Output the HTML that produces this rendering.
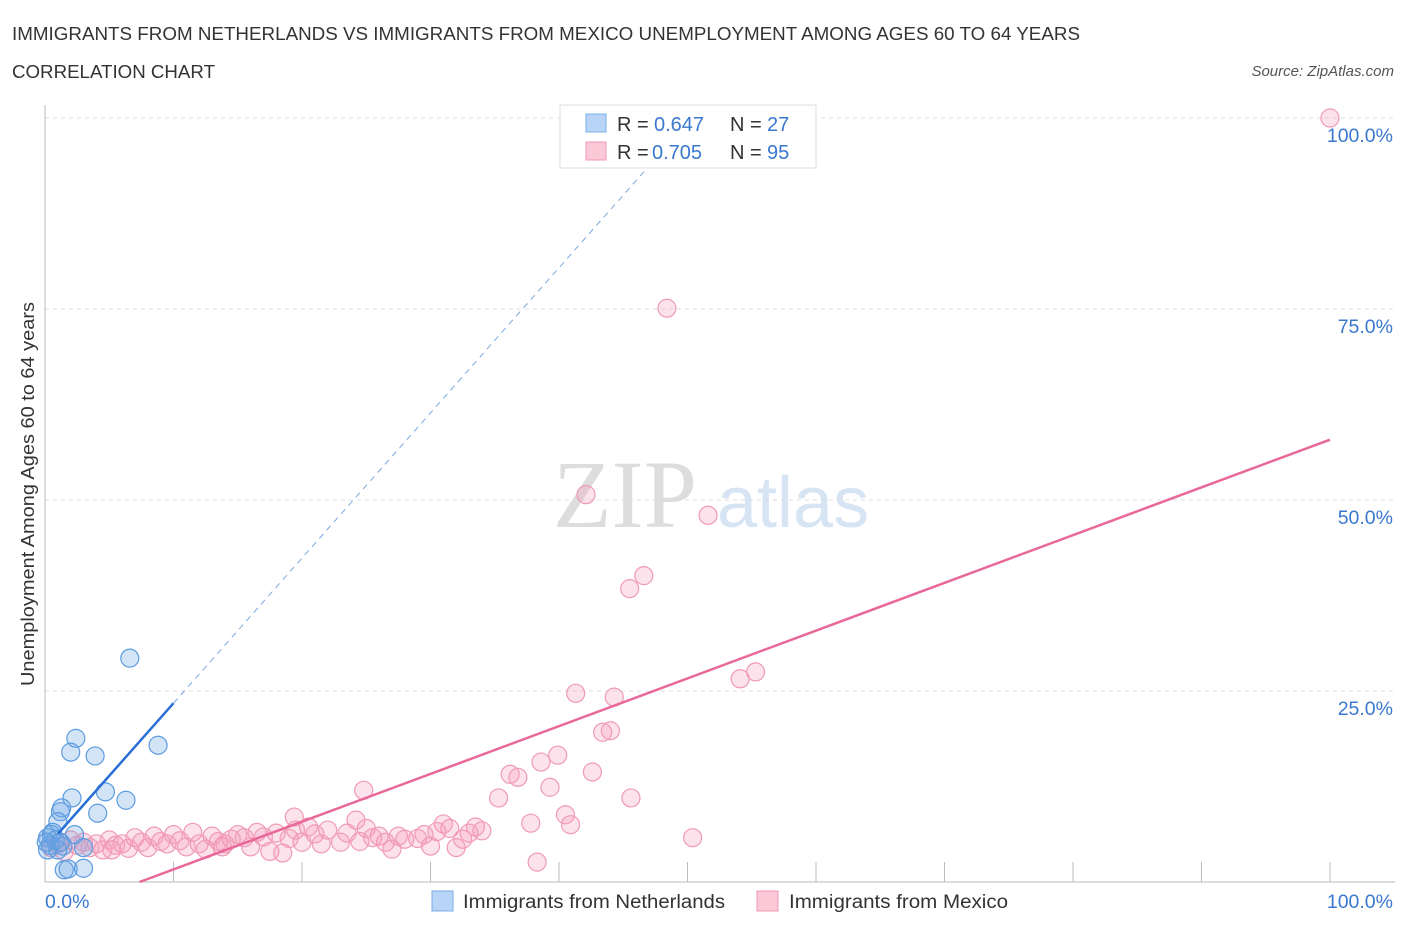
<!DOCTYPE html>
<html><head><meta charset="utf-8"><style>
body{margin:0;background:#fff;font-family:"Liberation Sans",sans-serif}
svg text{font-family:"Liberation Sans",sans-serif}
</style></head><body>
<svg id="c" width="1406" height="930" xmlns="http://www.w3.org/2000/svg">
<text x="12" y="40" font-size="18" textLength="1068" lengthAdjust="spacingAndGlyphs" fill="#333">IMMIGRANTS FROM NETHERLANDS VS IMMIGRANTS FROM MEXICO UNEMPLOYMENT AMONG AGES 60 TO 64 YEARS</text>
<text x="12" y="78" font-size="18" textLength="203" lengthAdjust="spacingAndGlyphs" fill="#333">CORRELATION CHART</text>
<text x="1394" y="76" font-size="15" fill="#555" font-style="italic" text-anchor="end">Source: ZipAtlas.com</text>
<g>
<text x="553" y="527" font-size="96" fill="#ddd" font-family="Liberation Serif" style="font-family:'Liberation Serif',serif">ZIP</text>
<text x="717" y="527" font-size="72" fill="#d6e4f4">atlas</text>
</g>
<g id="grid"></g><g id="axes"></g><g id="pts"></g><g id="lines"></g>
<text transform="translate(34,494) rotate(-90)" font-size="18" textLength="384" lengthAdjust="spacingAndGlyphs" fill="#333" text-anchor="middle">Unemployment Among Ages 60 to 64 years</text>
<g>
<rect x="560" y="105" width="256" height="63" fill="#fff" stroke="#ddd"/>
<rect x="586" y="114" width="20" height="18" fill="#b8d4f6" stroke="#7aaee8"/>
<rect x="586" y="142" width="20" height="18" fill="#fbc8d8" stroke="#f09ab5"/>
<text x="617" y="131" font-size="20" fill="#333">R =</text>
<text x="654" y="131" font-size="20" fill="#3a78d0">0.647</text>
<text x="730" y="131" font-size="20" fill="#333">N =</text>
<text x="767" y="131" font-size="20" fill="#3a78d0">27</text>
<text x="617" y="159" font-size="20" fill="#333">R =</text>
<text x="652" y="159" font-size="20" fill="#3a78d0">0.705</text>
<text x="730" y="159" font-size="20" fill="#333">N =</text>
<text x="767" y="159" font-size="20" fill="#3a78d0">95</text>
</g>
<g>
<rect x="432" y="891" width="21" height="20" fill="#b8d4f6" stroke="#7aaee8"/>
<text x="463" y="908" font-size="19" textLength="262" lengthAdjust="spacingAndGlyphs" fill="#333">Immigrants from Netherlands</text>
<rect x="757" y="891" width="21" height="20" fill="#fbc8d8" stroke="#f09ab5"/>
<text x="789" y="908" font-size="19" textLength="219" lengthAdjust="spacingAndGlyphs" fill="#333">Immigrants from Mexico</text>
</g>
</svg>
<script>
const yTicks=[25,50,75,100];
const yTickLabels=["25.0%","50.0%","75.0%","100.0%"];
const xTicks=[0,10,20,30,40,50,60,70,80,90,100];
const nethX=[6.6,2.4,2.0,3.9,8.8,4.7,6.3,2.1,1.3,1.2,4.1,1.0,0.6,2.3,0.2,0.8,0.4,1.4,1.0,0.2,3.0,1.5,1.8,3.0,0.5,0.1,1.2];
const nethY=[29.3,18.8,17.0,16.5,17.9,11.8,10.7,11.0,9.7,9.2,9.0,7.9,6.5,6.2,5.8,5.5,4.8,4.7,4.2,4.2,4.5,1.6,1.7,1.8,6.2,5.2,5.2];
const mexX=[100,48.4,42.1,51.6,46.6,45.5,41.3,44.3,54.1,55.3,43.4,44.0,39.9,38.6,36.2,36.8,42.6,39.3,35.3,45.6,24.8,40.5,40.9,37.8,38.3,50.4,19.4,24.2,
0.5,1,1.5,2,2.5,3,3.5,4,4.5,5,5.5,6,6.5,7,7.5,8,8.5,9,9.5,10,10.5,11,11.5,12,12.5,13,13.5,14,14.5,15,15.5,16,16.5,17,17.5,18,19,19.5,20,20.5,21,21.5,22,23,23.5,24.5,25,25.5,26,26.5,27,27.5,28,29,29.5,30,30.5,31,31.5,32,32.5,33,33.5,34,13.8,18.5,5.2];
const mexY=[100,75.1,50.7,48.0,40.1,38.4,24.7,24.2,26.6,27.5,19.6,19.8,16.6,15.7,14.1,13.7,14.4,12.4,11.0,11.0,12.0,8.8,7.5,7.7,2.6,5.8,8.5,8.1,
4.5,5,4,5.5,4.8,5.2,4.5,5,4.2,5.5,4.8,5,4.4,5.8,5.2,4.5,6,5.3,5,6.2,5.4,4.6,6.5,5,4.3,6,5.3,5,5.6,6.2,5.8,4.6,6.5,5.9,4,6.4,5.7,6.8,5.2,7.2,6.3,5,6.8,5.2,6.4,5.3,7,5.8,6,5.2,4.3,6,5.6,5.7,6.2,4.7,6.6,7.6,7,4.5,5.6,6.4,7.2,6.7,4.6,3.8,4.2];
const nethFit=[4.4,1.9];  // intercept, slope
const mexFit=[-4.6,0.625];
const X=v=>45+v*12.85, Y=v=>882-v*7.64;
const NS="http://www.w3.org/2000/svg";
function mk(t,a,p){const e=document.createElementNS(NS,t);for(const k in a)e.setAttribute(k,a[k]);p.appendChild(e);return e;}
const grid=document.getElementById('grid'),axes=document.getElementById('axes'),pts=document.getElementById('pts'),lines=document.getElementById('lines');
yTicks.forEach((t,i)=>{
 const g=mk('line',{x1:45,x2:1395,y1:Y(t),y2:Y(t),stroke:'#ddd','stroke-dasharray':'4,4'},grid);
 
 
 const l=mk('text',{x:1393,y:Y(t)+24,'font-size':19.5,fill:'#3a78d0','text-anchor':'end'},axes);
 l.textContent=yTickLabels[i];
 
 
});
const ya=mk('line',{x1:45,x2:45,y1:105,y2:882,stroke:'#bbb'},axes);


const xa=mk('line',{x1:45,x2:1395,y1:882,y2:882,stroke:'#bbb'},axes);


xTicks.forEach(t=>{
 const k=mk('line',{x1:X(t),x2:X(t),y1:862,y2:882,stroke:'#bbb'},axes);
 
 
});
const xl0=mk('text',{x:45,y:908,'font-size':19.5,fill:'#3a78d0'},axes);xl0.textContent='0.0%';


const xl1=mk('text',{x:1393,y:908,'font-size':19.5,fill:'#3a78d0','text-anchor':'end'},axes);xl1.textContent='100.0%';


mexX.forEach((x,i)=>{
 const c=mk('circle',{cx:X(x),cy:Y(mexY[i]),r:9,fill:'rgba(246,160,188,0.3)',stroke:'#f09ab5','stroke-width':1.2},pts);
 
 
});
nethX.forEach((x,i)=>{
 const c=mk('circle',{cx:X(x),cy:Y(nethY[i]),r:9,fill:'rgba(110,165,230,0.3)',stroke:'#5b9be0','stroke-width':1.2},pts);
 
 
});
const f=(fit,x)=>fit[0]+fit[1]*x;
const nl=mk('line',{x1:X(1),y1:Y(f(nethFit,1)),x2:X(10),y2:Y(f(nethFit,10)),stroke:'#2a6fd6','stroke-width':2.5},lines);


const nd=mk('line',{x1:X(10),y1:Y(f(nethFit,10)),x2:X(47),y2:Y(f(nethFit,47)),stroke:'#7aa8e0','stroke-width':1,'stroke-dasharray':'6,5'},lines);


const x0=-mexFit[0]/mexFit[1];
const ml=mk('line',{x1:X(x0),y1:Y(0),x2:X(100),y2:Y(f(mexFit,100)),stroke:'#e8689a','stroke-width':2.5},lines);


</script>
</body></html>
